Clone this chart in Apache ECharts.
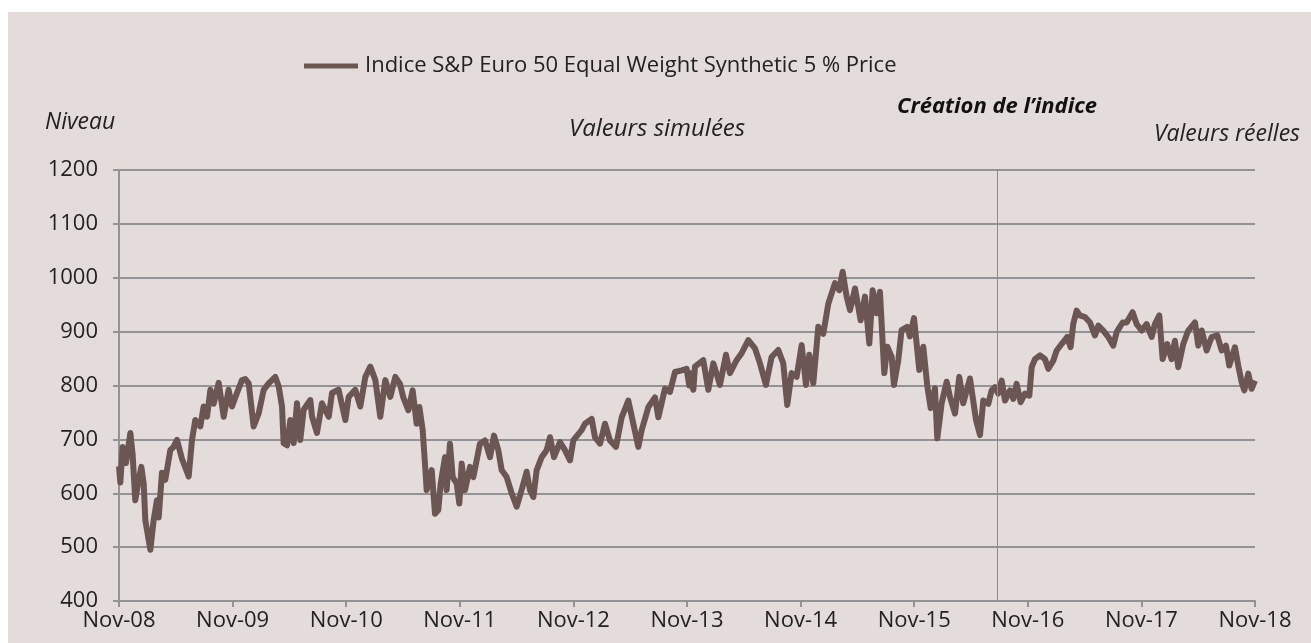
<!DOCTYPE html>
<html>
<head>
<meta charset="utf-8">
<script src="https://cdn.jsdelivr.net/npm/echarts@6/dist/echarts.min.js"></script>
<style>
html,body{margin:0;padding:0;background:#ffffff;}
#bg{position:absolute;left:8px;top:12px;width:1303px;height:631px;background:#e3dcda;}
#chart{position:absolute;left:0;top:0;width:1311px;height:643px;}
</style>
</head>
<body>
<div id="bg"></div>
<div id="chart"></div>
<script>
// Tick labels (x axis: one per year, axis in months since Nov-08)
const xTickLabels = ['Nov-08','Nov-09','Nov-10','Nov-11','Nov-12','Nov-13','Nov-14','Nov-15','Nov-16','Nov-17','Nov-18'];
const seriesName = 'Indice S&P Euro 50 Equal Weight Synthetic 5 % Price';
// Months elapsed since Nov-08
const months = [
0.0,0.14,0.39,0.74,1.20,1.44,1.72,2.08,2.36,2.61,2.78,3.31,3.66,4.01,4.19,4.54,4.89,5.42,5.77,6.13,
6.65,7.36,7.71,8.06,8.59,8.94,9.30,9.65,10.0,10.53,11.06,11.58,11.94,12.46,12.99,13.34,13.70,14.22,14.75,15.28,
15.81,16.51,16.87,17.22,17.39,17.75,18.10,18.45,18.80,19.15,19.51,20.21,20.39,20.91,21.44,22.15,22.50,23.20,23.91,24.26,
24.96,25.49,26.02,26.55,27.08,27.60,28.13,28.66,29.19,
29.68,30.03,30.56,31.02,31.44,31.73,32.08,32.32,32.50,32.85,33.03,33.38,33.73,33.98,34.44,34.61,34.96,35.25,35.67,35.95,
36.20,36.55,37.08,37.43,38.13,38.66,39.19,39.61,40.07,40.42,40.95,41.48,42.01,42.53,43.06,43.41,43.77,44.12,44.65,45.17,
45.53,45.95,46.58,47.11,47.64,47.99,48.87,49.22,49.93,50.28,50.81,51.34,51.86,52.50,53.10,53.80,54.33,54.86,55.21,55.92,
56.62,56.97,57.67,58.20,58.73,59.44,59.96,60.24,
60.32,60.67,60.84,61.72,62.25,62.78,63.48,64.12,64.54,65.24,65.77,66.48,67.18,67.71,68.34,68.94,69.64,70.17,70.59,71.05,
71.58,72.11,72.57,72.92,73.34,73.87,74.40,74.93,75.63,76.09,76.44,76.86,77.22,77.75,78.34,78.80,79.26,79.61,80.03,80.38,
80.84,81.16,81.62,81.86,82.32,82.67,83.27,83.55,83.98,84.54,84.96,85.39,85.74,86.19,86.44,86.90,87.43,87.78,88.31,88.76,
89.18,89.89,90.53,90.95,
91.30,91.83,92.18,92.53,92.88,93.24,93.59,94.12,94.47,94.82,95.24,95.70,96.16,96.41,96.76,97.29,97.81,98.17,98.69,99.05,
99.57,100.17,100.52,100.80,101.16,101.51,102.04,102.57,103.09,103.45,103.97,104.50,105.03,105.38,106.02,106.44,107.07,107.50,108.02,108.55,
109.08,109.43,109.89,110.24,110.73,111.19,111.54,111.89,112.42,112.95,113.66,114.01,114.37,114.89,115.42,116.01,116.48,116.93,117.28,117.88,
118.23,118.59,118.87,119.29,119.64,120.0
];
// Index level
const levels = [
650,620,686,656,712,672,587,625,649,618,550,495,550,587,555,638,625,680,686,699,
664,631,699,736,724,761,742,792,766,805,742,792,761,786,810,812,804,724,748,792,
804,816,798,761,693,689,736,693,767,699,755,773,742,712,767,742,786,792,736,779,
792,761,816,835,810,742,810,779,816,
803,778,754,791,729,760,717,655,606,630,643,562,569,618,667,606,692,630,618,581,
655,606,649,630,692,698,667,707,680,643,630,600,575,606,640,606,593,643,667,680,
704,667,695,680,661,698,717,729,738,704,692,729,698,686,741,772,729,686,717,760,
778,741,794,788,825,828,831,800,
823,792,835,847,792,841,801,857,823,847,860,884,869,841,801,853,866,841,764,823,
816,875,801,857,804,909,896,952,990,977,1011,965,940,980,921,965,878,977,934,974,
823,872,853,801,847,903,909,891,925,829,872,798,758,795,702,767,807,779,748,816,
767,813,736,708,
772,766,791,797,785,809,772,791,775,803,769,785,781,834,849,856,849,831,846,865,
877,890,871,914,939,930,927,917,893,911,902,890,874,899,917,917,936,914,902,914,
890,914,930,849,877,849,883,834,877,902,917,874,902,865,890,893,865,874,837,871,
837,806,791,822,794,809
];
// Index creation date (months since Nov-08)
const creationMonth = 92.78;

const chart = echarts.init(document.getElementById('chart'), null, {renderer:'canvas'});
const FONT = 'Open Sans';
const TXT = '#222222';
const GRID = '#939393';
const LINE = '#6b5653';

chart.setOption({
  backgroundColor: 'transparent',
  animation: false,
  textStyle: {fontFamily: FONT},
  legend: {
    data: [{name: seriesName, icon: 'rect'}],
    left: 299, top: 50,
    itemWidth: 54, itemHeight: 5, itemGap: 10,
    textStyle: {fontFamily: FONT, fontSize: 22, color: TXT, padding: [0,0,0,2]}
  },
  grid: {left: 119, right: 56, top: 170, bottom: 42, containLabel: false},
  xAxis: {
    type: 'value', min: 0, max: 120, interval: 12,
    axisLine: {show: true, onZero: false, lineStyle: {color: GRID, width: 2}},
    axisTick: {show: true, length: 6, lineStyle: {color: GRID, width: 2}},
    splitLine: {show: false},
    axisLabel: {
      fontFamily: FONT, fontSize: 22, color: TXT, margin: 9,
      formatter: v => xTickLabels[Math.round(v / 12)] || ''
    }
  },
  yAxis: {
    type: 'value', min: 400, max: 1200, interval: 100,
    axisLine: {show: true, lineStyle: {color: GRID, width: 2}},
    axisTick: {show: true, length: 6, lineStyle: {color: GRID, width: 2}},
    splitLine: {show: true, lineStyle: {color: GRID, width: 2}},
    axisLabel: {fontFamily: FONT, fontSize: 22, color: TXT, margin: 21, formatter: v => String(v)}
  },
  graphic: [
    {type: 'text', left: 45, top: 111, style: {text: 'Niveau', fontFamily: FONT, fontSize: 23, fontStyle: 'italic', fill: TXT}},
    {type: 'text', left: 569, top: 117, style: {text: 'Valeurs simulées', fontFamily: FONT, fontSize: 24, fontStyle: 'italic', fill: TXT}},
    {type: 'text', left: 897, top: 96, style: {text: 'Création de l\u2019indice', fontFamily: FONT, fontSize: 22, fontStyle: 'italic', fontWeight: 'bold', fill: '#111111'}},
    {type: 'text', right: 11, top: 123, style: {text: 'Valeurs réelles', fontFamily: FONT, fontSize: 23, fontStyle: 'italic', fill: TXT}}
  ],
  series: [{
    name: seriesName,
    type: 'line',
    data: months.map((m, i) => [m, levels[i]]),
    showSymbol: false,
    symbol: 'none',
    lineStyle: {color: LINE, width: 6, join: 'round'},
    itemStyle: {color: LINE},
    z: 3,
    markLine: {
      silent: true, symbol: ['none','none'],
      label: {show: false},
      lineStyle: {color: '#8a8a8a', width: 1, type: 'solid'},
      data: [{xAxis: creationMonth}]
    }
  }]
});
</script>
</body>
</html>
